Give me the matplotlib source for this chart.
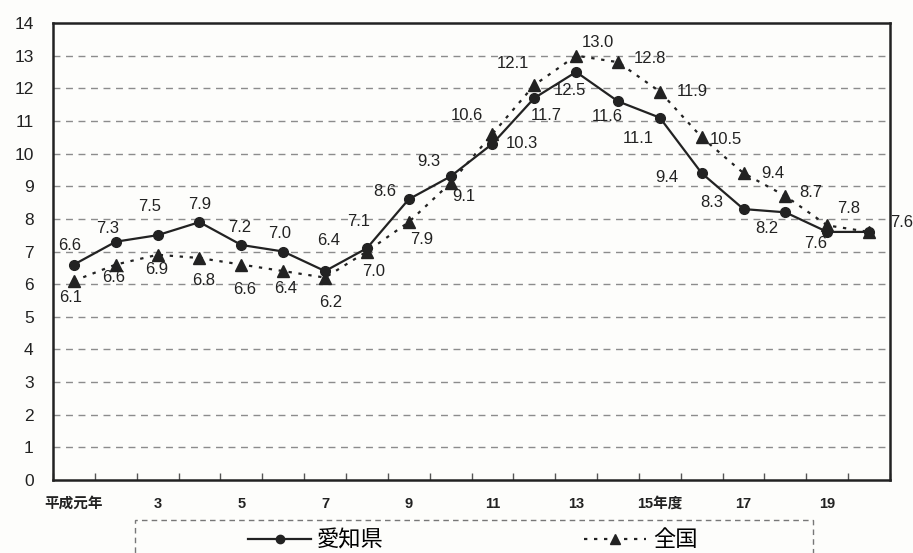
import matplotlib.pyplot as plt
from matplotlib.lines import Line2D
from matplotlib.patches import Rectangle

plt.rcParams['font.family'] = ['Liberation Sans', 'Noto Sans CJK JP']

# 平成元年度 ~ 20年度
years = list(range(1, 21))
aichi = [6.6, 7.3, 7.5, 7.9, 7.2, 7.0, 6.4, 7.1, 8.6, 9.3,
         10.3, 11.7, 12.5, 11.6, 11.1, 9.4, 8.3, 8.2, 7.6, 7.6]
zenkoku = [6.1, 6.6, 6.9, 6.8, 6.6, 6.4, 6.2, 7.0, 7.9, 9.1,
           10.6, 12.1, 13.0, 12.8, 11.9, 10.5, 9.4, 8.7, 7.8, 7.6]
tick_years = [1, 3, 5, 7, 9, 11, 13, 15, 17, 19]
tick_labels = ['平成元年', '3', '5', '7', '9', '11', '13', '15年度', '17', '19']

# label offsets in pixels (dx, dy) relative to each point, image y downwards
aichi_off = [(-4, -19), (-8, -13), (-8, -29), (0, -18), (-2, -17), (-4, -18),
             (4, -31), (-8, -27), (-24, -8), (-22, -15), (29, 0), (12, 17),
             (-6, 19), (-11, 15), (-22, 21), (-35, 4), (-32, -7), (-19, 16),
             (-12, 12), None]
zenkoku_off = [(-3, 17), (-2, 13), (-1, 15), (4, 22), (3, 25), (2, 17),
               (6, 25), (7, 20), (13, 17), (13, 14), (-26, -18), (-21, -22),
               (22, -13), (32, -4), (32, 0), (24, 2), (29, 0), (25, -4),
               (21, -17), (33, -9)]

ink = '#222222'

fig = plt.figure(figsize=(9.13, 5.53), dpi=100)
fig.patch.set_facecolor('#fdfdfb')
ax = fig.add_axes([53 / 913, 1 - 480 / 553, 837 / 913, 457 / 553])
ax.set_facecolor('#fdfdfb')

x = [y - 1 for y in years]
ax.plot(x, aichi, color=ink, lw=1.6, marker='o', ms=7, zorder=3)
ax.plot(x, zenkoku, color=ink, lw=1.6, ls=(0, (1.5, 3)), marker='^', ms=8, zorder=4)

for xi, v, off in zip(x, aichi, aichi_off):
    if off is None:
        continue
    ax.annotate(f'{v:.1f}', (xi, v), xytext=(off[0], -off[1]), textcoords='offset pixels',
                ha='center', va='center', fontsize=12, color=ink)
for xi, v, off in zip(x, zenkoku, zenkoku_off):
    ax.annotate(f'{v:.1f}', (xi, v), xytext=(off[0], -off[1]), textcoords='offset pixels',
                ha='center', va='center', fontsize=12, color=ink)

ax.set_xlim(-0.5, 19.5)
ax.set_ylim(0, 14)
ax.set_yticks(range(0, 15))
ax.tick_params(axis='y', length=0, pad=14, labelsize=12.5, labelcolor=ink)
for gy in range(1, 14):
    ax.axhline(gy, color='#8c8c8c', lw=1, ls=(0, (5, 4)), zorder=1)

ax.set_xticks([t - 1 for t in tick_years])
ax.set_xticklabels(tick_labels, fontsize=10.5, fontweight='bold', color=ink)
ax.set_xticks([k - 0.5 for k in range(21)], minor=True)
ax.tick_params(axis='x', which='major', length=0, pad=12)
ax.tick_params(axis='x', which='minor', direction='in', length=5, width=1, color='#555555')

for s in ax.spines.values():
    s.set_color(ink)
    s.set_linewidth(1.8)

# legend with dashed frame
fig.patches.append(Rectangle((135 / 913, -0.1), 678 / 913, 0.1 + 33 / 553,
                             transform=fig.transFigure, fill=False,
                             ec='#777777', lw=1, ls=(0, (4, 3))))
handles = [Line2D([], [], color=ink, lw=1.6, marker='o', ms=6),
           Line2D([], [], color=ink, lw=1.6, ls=(0, (1.5, 3)), marker='^', ms=7)]
fig.legend(handles, ['愛知県', '全国'], ncol=2, frameon=False, loc='center',
           bbox_to_anchor=(0.518, 0.022), fontsize=16, handlelength=2.8,
           columnspacing=9, handletextpad=0.3)

fig.savefig('out.png', dpi=100, facecolor=fig.get_facecolor())
